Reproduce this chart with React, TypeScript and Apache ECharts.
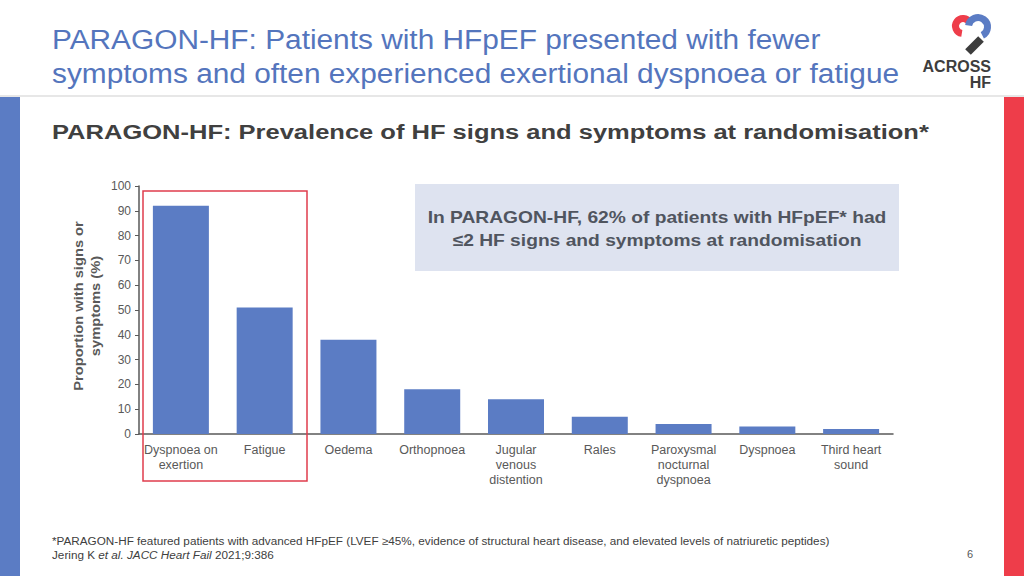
import React, { useEffect, useRef } from "react";
import * as echarts from "echarts";

const categories = [
  "Dyspnoea on\nexertion",
  "Fatigue",
  "Oedema",
  "Orthopnoea",
  "Jugular\nvenous\ndistention",
  "Rales",
  "Paroxysmal\nnocturnal\ndyspnoea",
  "Dyspnoea",
  "Third heart\nsound",
];
const prevalence = [92, 51, 38, 18, 14, 7, 4, 3, 2];
const titleLines = [
  "PARAGON-HF: Patients with HFpEF presented with fewer",
  "symptoms and often experienced exertional dyspnoea or fatigue",
];
const subtitle = "PARAGON-HF: Prevalence of HF signs and symptoms at randomisation*";
const calloutLines = [
  "In PARAGON-HF, 62% of patients with HFpEF* had",
  "≤2 HF signs and symptoms at randomisation",
];
const yAxisTitle = "Proportion with signs or\nsymptoms (%)";
const footnote =
  "*PARAGON-HF featured patients with advanced HFpEF (LVEF ≥45%, evidence of structural heart disease, and elevated levels of natriuretic peptides)";

const FONT = "'Liberation Sans', Arial, Helvetica, sans-serif";

export default function App() {
  const ref = useRef<HTMLDivElement>(null);
  useEffect(() => {
    if (!ref.current) return;
    const chart = echarts.init(ref.current, null, { renderer: "svg" });
    chart.setOption({
      animation: false,
      backgroundColor: "#ffffff",
      textStyle: { fontFamily: FONT },
      grid: { left: 139, right: 131, top: 186, bottom: 142, containLabel: false },
      xAxis: {
        type: "category",
        data: categories,
        axisLine: { show: true, lineStyle: { color: "#595959", width: 1.5 } },
        axisTick: { show: false },
        axisLabel: {
          interval: 0,
          color: "#595959",
          fontSize: 12.5,
          lineHeight: 15,
          margin: 8,
          fontFamily: FONT,
        },
      },
      yAxis: {
        type: "value",
        min: 0,
        max: 100,
        interval: 10,
        splitLine: { show: false },
        axisLine: { show: true, lineStyle: { color: "#595959", width: 1.5 } },
        axisTick: { show: true, length: 4, lineStyle: { color: "#595959" } },
        axisLabel: { color: "#595959", fontSize: 12, margin: 8, fontFamily: FONT },
      },
      series: [
        {
          type: "bar",
          data: prevalence,
          barWidth: 56,
          itemStyle: { color: "#5b7cc4" },
        },
      ],
      graphic: [
        // side strips
        { type: "rect", shape: { x: 0, y: 97, width: 20, height: 479 }, style: { fill: "#5b7cc4" } },
        { type: "rect", shape: { x: 1004, y: 97, width: 20, height: 479 }, style: { fill: "#ee3d4a" } },
        // header separator
        { type: "line", shape: { x1: 0, y1: 96, x2: 1024, y2: 96 }, style: { stroke: "#cfcfcf", lineWidth: 1 } },
        // title
        {
          type: "text",
          x: 52,
          y: 40,
          scaleX: 1.105,
          style: { text: titleLines[0], fill: "#5475bd", fontSize: 27, fontFamily: FONT, verticalAlign: "middle" },
        },
        {
          type: "text",
          x: 52,
          y: 74,
          scaleX: 1.105,
          style: { text: titleLines[1], fill: "#5475bd", fontSize: 27, fontFamily: FONT, verticalAlign: "middle" },
        },
        // subtitle
        {
          type: "text",
          x: 52,
          y: 132,
          scaleX: 1.215,
          style: {
            text: subtitle,
            fill: "#404040",
            fontSize: 21,
            fontWeight: "bold",
            fontFamily: FONT,
            verticalAlign: "middle",
          },
        },
        // y axis title
        {
          type: "text",
          x: 87,
          y: 306,
          rotation: Math.PI / 2,
          scaleX: 1.13,
          style: {
            text: yAxisTitle,
            fill: "#595959",
            fontSize: 13,
            fontWeight: "bold",
            lineHeight: 17,
            fontFamily: FONT,
            align: "center",
            verticalAlign: "middle",
          },
        },
        // callout box
        { type: "rect", shape: { x: 415, y: 184, width: 484, height: 87 }, style: { fill: "#dee3f0" } },
        {
          type: "text",
          x: 657,
          y: 217,
          scaleX: 1.165,
          style: {
            text: calloutLines[0],
            fill: "#50555f",
            fontSize: 16.5,
            fontWeight: "bold",
            fontFamily: FONT,
            align: "center",
            verticalAlign: "middle",
          },
        },
        {
          type: "text",
          x: 657,
          y: 240,
          scaleX: 1.165,
          style: {
            text: calloutLines[1],
            fill: "#50555f",
            fontSize: 16.5,
            fontWeight: "bold",
            fontFamily: FONT,
            align: "center",
            verticalAlign: "middle",
          },
        },
        // red highlight box
        {
          type: "rect",
          shape: { x: 143, y: 191, width: 164, height: 290 },
          style: { fill: "none", stroke: "#e03c4c", lineWidth: 1.5 },
          z: 10,
        },
        // footnotes
        {
          type: "text",
          x: 52,
          y: 541,
          scaleX: 1.067,
          style: { text: footnote, fill: "#404040", fontSize: 11, fontFamily: FONT, verticalAlign: "middle" },
        },
        {
          type: "text",
          x: 52,
          y: 555,
          scaleX: 1.067,
          style: {
            text: "Jering K {i|et al. JACC Heart Fail} 2021;9:386",
            fill: "#404040",
            fontSize: 11,
            fontFamily: FONT,
            verticalAlign: "middle",
            rich: { i: { fontStyle: "italic", fontSize: 11, fill: "#404040", fontFamily: FONT } },
          },
        },
        {
          type: "text",
          x: 970,
          y: 554,
          style: { text: "6", fill: "#595959", fontSize: 11, fontFamily: FONT, align: "center", verticalAlign: "middle" },
        },
        // logo
        {
          type: "arc",
          shape: { cx: 963, cy: 26, r: 7.5, startAngle: -Math.PI * 0.15, endAngle: Math.PI * 0.55, clockwise: false },
          style: { stroke: "#ee3d4a", lineWidth: 7, fill: "none" },
        },
        {
          type: "arc",
          shape: { cx: 978, cy: 27, r: 9.5, startAngle: Math.PI * 1.05, endAngle: Math.PI * 0.35, clockwise: true },
          style: { stroke: "#5b7cc4", lineWidth: 7, fill: "none" },
        },
        {
          type: "line",
          shape: { x1: 981, y1: 39, x2: 968, y2: 52 },
          style: { stroke: "#3d3d3d", lineWidth: 8 },
        },
        {
          type: "text",
          x: 991,
          y: 66,
          style: {
            text: "ACROSS",
            fill: "#3d3d3d",
            fontSize: 16,
            fontWeight: "bold",
            fontFamily: FONT,
            align: "right",
            verticalAlign: "middle",
          },
        },
        {
          type: "text",
          x: 991,
          y: 82,
          style: {
            text: "HF",
            fill: "#3d3d3d",
            fontSize: 16,
            fontWeight: "bold",
            fontFamily: FONT,
            align: "right",
            verticalAlign: "middle",
          },
        },
      ],
    });
    return () => chart.dispose();
  }, []);
  return (
    <div
      ref={ref}
      style={{ position: "fixed", left: 0, top: 0, width: 1024, height: 576 }}
    />
  );
}
